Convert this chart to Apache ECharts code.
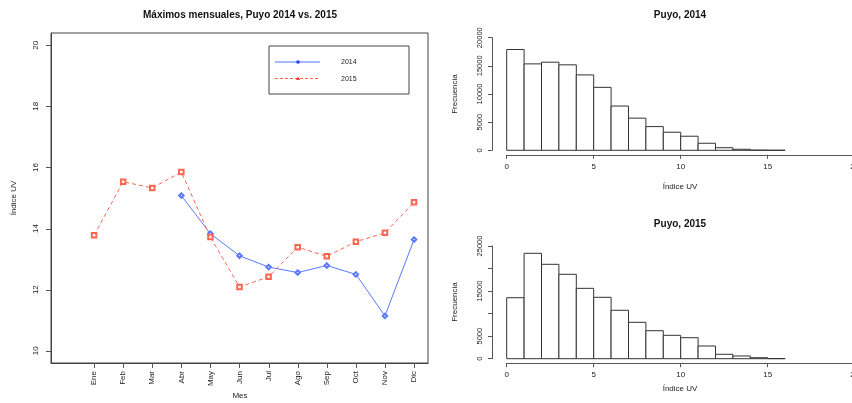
<!DOCTYPE html>
<html><head><meta charset="utf-8">
<script src="https://cdn.jsdelivr.net/npm/echarts@6/dist/echarts.min.js"></script>
<style>html,body{margin:0;padding:0;background:#fff}#c{width:852px;height:403px}</style>
</head><body><div id="c"></div>
<script>
const months = ['Ene','Feb','Mar','Abr','May','Jun','Jul','Ago','Sep','Oct','Nov','Dic'];
const monthIdx = [1,2,3,4,5,6,7,8,9,10,11,12];
const max2014 = [null,null,null,15.08,13.83,13.11,12.74,12.56,12.79,12.50,11.14,13.64];
const max2015 = [13.78,15.53,15.33,15.85,13.72,12.09,12.42,13.39,13.09,13.57,13.86,14.86];
const yTicksLeft = [10,12,14,16,18,20];
const binEdges = [0,1,2,3,4,5,6,7,8,9,10,11,12,13,14,15,16];
const counts2014 = [17900,15350,15650,15180,13390,11180,7860,5710,4210,3210,2500,1250,460,180,40,10];
const counts2015 = [13530,23380,20940,18720,15610,13620,10740,8070,6210,5190,4660,2820,980,600,220,30];
const yLabels2014 = [0,5000,10000,15000,20000];
const yLabels2015 = [0,5000,15000,25000];

const FONT = 'Liberation Sans, Arial, sans-serif';
const AX = '#555';
const TXT = '#222';
const BLUE = '#5a78ff';
const RED = '#ff6450';
const X_MIN = -0.48, X_MAX = 12.48, Y_MIN = 9.6, Y_MAX = 20.4;
const TICK_LEN = 5, TICK_COL = '#555';

function pairs(vals){ return vals.map((v,i)=> v==null ? null : [monthIdx[i], v]).filter(d=>d); }
function histData(counts){ return counts.map((c,i)=>[binEdges[i], binEdges[i+1], c]); }

function renderBar(params, api){
  const p0 = api.coord([api.value(0), api.value(2)]);
  const p1 = api.coord([api.value(1), 0]);
  return {type:'rect', shape:{x:p0[0], y:p0[1], width:p1[0]-p0[0], height:p1[1]-p0[1]},
    style:{fill:'#fff', stroke:'#333', lineWidth:1}};
}

const histAxisX = (gi, off) => ({gridIndex:gi, type:'value', min:0, max:20, interval:5, offset:off,
  axisLine:{show:true, onZero:false, lineStyle:{color:AX, width:1}}, axisTick:{show:true, length:4, lineStyle:{color:AX}},
  axisLabel:{fontSize:8, color:TXT, fontFamily:FONT, margin:8, showMaxLabel:true, formatter:(v)=>String(v)}, splitLine:{show:false}});
const histAxisY = (gi, max, labels, off) => ({gridIndex:gi, type:'value', min:0, max:max, interval:5000, offset:off,
  axisLine:{show:true, onZero:false, lineStyle:{color:AX, width:1}}, axisTick:{show:true, length:4, lineStyle:{color:AX}},
  axisLabel:{fontSize:7.5, color:TXT, fontFamily:FONT, margin:8, rotate:90, customValues:labels, formatter:(v)=>String(v)}, splitLine:{show:false}});

// R-style outward tick marks for the boxed plot, drawn through the axis scales
const tickData = yTicksLeft.map(v=>['y', v]).concat(monthIdx.map(m=>['x', m]));
function renderTick(params, api){
  const kind = tickData[params.dataIndex][0];
  const val = tickData[params.dataIndex][1];
  if (kind === 'y') {
    const p = api.coord([X_MIN, val]);
    const y = Math.round(p[1]) + 0.5;
    return {type:'line', shape:{x1:p[0]-TICK_LEN, y1:y, x2:p[0], y2:y}, style:{stroke:TICK_COL, lineWidth:1}};
  }
  const p = api.coord([val, Y_MIN]);
  const x = Math.round(p[0]) + 0.5;
  return {type:'line', shape:{x1:x, y1:p[1], x2:x, y2:p[1]+TICK_LEN}, style:{stroke:TICK_COL, lineWidth:1}};
}

const chart = echarts.init(document.getElementById('c'), null, {renderer:'canvas'});
chart.setOption({
  animation:false,
  grid:[
    {left:51, top:33, width:377, height:330, show:true, borderColor:'#444', borderWidth:1, backgroundColor:'transparent', containLabel:false, outerBoundsMode:'none'},
    {left:506.7, top:37.7, width:348, height:112.6, containLabel:false, outerBoundsMode:'none'},
    {left:506.7, top:246, width:348, height:112.7, containLabel:false, outerBoundsMode:'none'}
  ],
  xAxis:[
    {gridIndex:0, type:'value', min:X_MIN, max:X_MAX,
      axisLine:{show:true, onZero:false, lineStyle:{color:'#444', width:1}}, splitLine:{show:false},
      axisTick:{show:false},
      axisLabel:{show:true, customValues:monthIdx, rotate:90, fontSize:8, color:TXT, fontFamily:FONT, margin:8,
        formatter:(v)=>months[Math.round(v)-1]}},
    histAxisX(1, 4.5),
    histAxisX(2, 4.5)
  ],
  yAxis:[
    {gridIndex:0, type:'value', min:Y_MIN, max:Y_MAX,
      axisLine:{show:true, onZero:false, lineStyle:{color:'#444', width:1}}, splitLine:{show:false},
      axisTick:{show:false},
      axisLabel:{show:true, customValues:yTicksLeft, rotate:90, fontSize:8, color:TXT, fontFamily:FONT, margin:11}},
    histAxisY(1, 20000, yLabels2014, 14.7),
    histAxisY(2, 25000, yLabels2015, 14.7)
  ],
  series:[
    {type:'custom', xAxisIndex:0, yAxisIndex:0, data:tickData.map((d,i)=>[i]), renderItem:renderTick, clip:false, silent:true, encode:{x:-1, y:-1}},
    {type:'line', name:'2014', xAxisIndex:0, yAxisIndex:0, data:pairs(max2014),
      symbol:'emptyDiamond', symbolSize:4.5, lineStyle:{color:BLUE, width:1}, itemStyle:{color:BLUE, borderWidth:0.6}},
    {type:'line', name:'2015', xAxisIndex:0, yAxisIndex:0, data:pairs(max2015),
      symbol:'emptyRect', symbolSize:4.5, lineStyle:{color:RED, width:1, type:[4,3]}, itemStyle:{color:RED, borderWidth:0.6}},
    {type:'custom', xAxisIndex:1, yAxisIndex:1, data:histData(counts2014), renderItem:renderBar, encode:{x:[0,1], y:2}},
    {type:'custom', xAxisIndex:2, yAxisIndex:2, data:histData(counts2015), renderItem:renderBar, encode:{x:[0,1], y:2}}
  ],
  graphic:[
    {type:'text', x:240, y:15, style:{text:'Máximos mensuales, Puyo 2014 vs. 2015', font:'bold 10px '+FONT, fill:'#111', align:'center', verticalAlign:'middle'}},
    {type:'text', x:240, y:396, style:{text:'Mes', font:'8px '+FONT, fill:TXT, align:'center', verticalAlign:'middle'}},
    {type:'text', x:14, y:198, rotation:Math.PI/2, style:{text:'Índice UV', font:'8px '+FONT, fill:TXT, align:'center', verticalAlign:'middle'}},
    {type:'rect', shape:{x:269, y:46, width:140, height:48}, style:{fill:'transparent', stroke:'#444', lineWidth:1}},
    {type:'line', shape:{x1:275, y1:62, x2:320, y2:62}, style:{stroke:BLUE, lineWidth:1.5, opacity:0.7}},
    {type:'circle', shape:{cx:298, cy:62, r:1.8}, style:{fill:'#2244ff'}},
    {type:'line', shape:{x1:275, y1:78.5, x2:320, y2:78.5}, style:{stroke:RED, lineWidth:1, lineDash:[3,2]}},
    {type:'polygon', shape:{points:[[296,80],[300,80],[298,76.5]]}, style:{fill:'#ff3320'}},
    {type:'text', x:341, y:62, style:{text:'2014', font:'7px '+FONT, fill:TXT, verticalAlign:'middle'}},
    {type:'text', x:341, y:79, style:{text:'2015', font:'7px '+FONT, fill:TXT, verticalAlign:'middle'}},
    {type:'text', x:680, y:15, style:{text:'Puyo, 2014', font:'bold 10px '+FONT, fill:'#111', align:'center', verticalAlign:'middle'}},
    {type:'text', x:680, y:187, style:{text:'Índice UV', font:'8px '+FONT, fill:TXT, align:'center', verticalAlign:'middle'}},
    {type:'text', x:455, y:94, rotation:Math.PI/2, style:{text:'Frecuencia', font:'8px '+FONT, fill:TXT, align:'center', verticalAlign:'middle'}},
    {type:'text', x:680, y:224, style:{text:'Puyo, 2015', font:'bold 10px '+FONT, fill:'#111', align:'center', verticalAlign:'middle'}},
    {type:'text', x:680, y:389, style:{text:'Índice UV', font:'8px '+FONT, fill:TXT, align:'center', verticalAlign:'middle'}},
    {type:'text', x:455, y:302, rotation:Math.PI/2, style:{text:'Frecuencia', font:'8px '+FONT, fill:TXT, align:'center', verticalAlign:'middle'}}
  ]
});
</script></body></html>
